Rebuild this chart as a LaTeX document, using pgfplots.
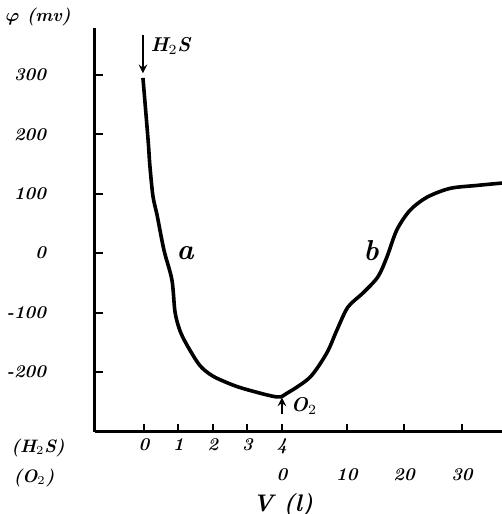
\documentclass[border=0pt]{standalone}
\usepackage{amsmath}
\usepackage{bm}
\usepackage{pgfplots}
\pgfplotsset{compat=1.18}
\begin{document}
\begin{tikzpicture}
\begin{axis}[
  at={(0,0)}, anchor=south west,
  scale only axis, width=203.5pt, height=202pt,
  xmin=-1.42, xmax=10.38, ymin=-301, ymax=379,
  axis lines=left,
  axis line style={-, line width=1.5pt, black},
  tick align=inside,
  tick style={black, line width=1pt},
  major tick length=4pt,
  clip=false,
  ytick={-200,-100,0,100,200,300},
  yticklabels={-200,-100,0,100,200,300},
  yticklabel style={font=\small\bfseries\itshape, xshift=-21pt},
  xtick={0,1,2,3,4},
  xticklabels={0,1,2,3,4},
  xticklabel style={font=\small\bfseries\itshape},
  extra x ticks={4,5.88,7.54,9.22},
  extra x tick labels={0,10,20,30},
  extra x tick style={xticklabel style={yshift=-15pt}},
]
\addplot[black, line width=1.8pt, smooth, tension=0.5] coordinates {
 (-0.03,295) (0.12,190) (0.17,148) (0.26,96) (0.38,64) (0.58,5)
 (0.81,-45) (0.90,-99) (1.04,-130) (1.25,-155) (1.62,-189)
 (2.0,-207) (2.58,-222) (3.07,-231) (3.86,-242)
 (4.14,-236) (4.81,-209) (5.30,-168) (5.59,-130) (5.91,-91)
 (6.35,-67) (6.78,-40) (7.04,-7) (7.33,39) (7.71,72) (8.20,94)
 (8.87,109) (9.65,114) (10.38,118)
};
\node[font=\Large\bfseries\itshape] at (axis cs:1.19,0) {a};
\node[font=\Large\bfseries\itshape] at (axis cs:6.58,5) {b};
\draw[-stealth, line width=0.9pt] (axis cs:-0.03,367) -- (axis cs:-0.03,303);
\node[anchor=west, font=\normalsize\bfseries\itshape, inner sep=0pt] at (axis cs:0.18,348) {H$_2$S};
\draw[-stealth, line width=0.9pt] (axis cs:4.0,-270) -- (axis cs:4.0,-243);
\node[anchor=west, font=\normalsize\bfseries\itshape, inner sep=0pt] at (axis cs:4.25,-258) {O$_2$};
\node[font=\small\bfseries\itshape] at (axis cs:-3.07,-328) {(H$_2$S)};
\node[font=\small\bfseries\itshape] at (axis cs:-3.19,-379) {(O$_2$)};
\node[font=\large\bfseries\itshape] at (axis cs:4.03,-424) {V (l)};
\node[font=\small\bfseries\itshape] at (axis cs:-3.07,397) {$\bm{\varphi}$ (mv)};
\end{axis}
\pgfresetboundingbox
\useasboundingbox (-47.5pt,-41pt) rectangle (203.5pt,216pt);
\end{tikzpicture}
\end{document}
